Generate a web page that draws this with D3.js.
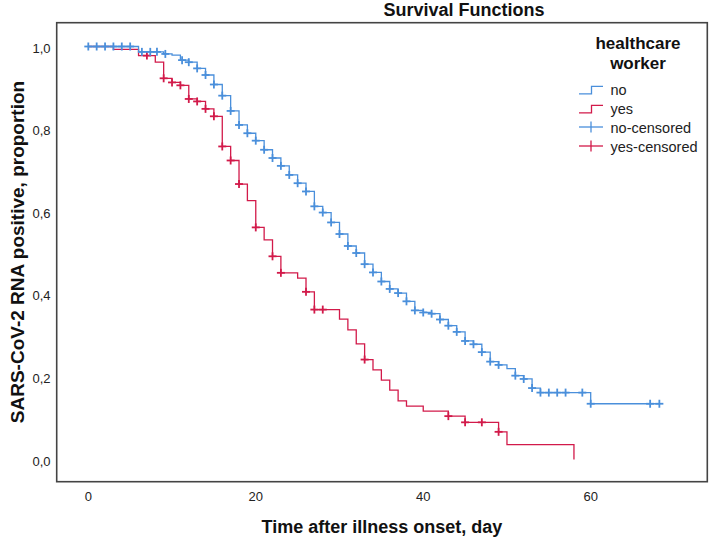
<!DOCTYPE html>
<html><head><meta charset="utf-8">
<script src="https://cdn.jsdelivr.net/npm/d3@7"></script>
<style>body{margin:0;background:#fff} svg{display:block;font-family:"Liberation Sans",Arial,sans-serif}</style>
</head><body><svg id="c" width="709" height="540"></svg>
<script>
// ---- data ----
const xTicks = [0, 20, 40, 60];
const yTicks = [0, 0.2, 0.4, 0.6, 0.8, 1.0];
const yTickLabels = ["0,0", "0,2", "0,4", "0,6", "0,8", "1,0"];
const legendLabels = ["no", "yes", "no-censored", "yes-censored"];

// healthcare worker = no
const noTimes = [0, 6, 9, 10, 11, 12, 13, 14, 15, 16, 17, 18, 19, 20, 21, 22, 23, 24, 25, 26, 27, 28, 29, 30,
  31, 32, 33, 34, 35, 36, 37, 38, 39, 40, 41, 42, 43, 44, 45, 46, 47, 48, 49, 50, 51, 52, 53, 54, 60];
const noSurv = [1, 0.987, 0.982, 0.979, 0.967, 0.962, 0.947, 0.931, 0.908, 0.881, 0.844, 0.810, 0.790, 0.772,
  0.750, 0.730, 0.711, 0.689, 0.669, 0.649, 0.613, 0.598, 0.574, 0.546, 0.517, 0.500, 0.473, 0.453, 0.431,
  0.413, 0.403, 0.383, 0.361, 0.356, 0.353, 0.339, 0.324, 0.309, 0.287, 0.279, 0.260, 0.237, 0.229, 0.220,
  0.203, 0.195, 0.173, 0.162, 0.135];
const noCensor = [0, 1, 2, 3, 4, 5, 6.4, 7.4, 8.2, 9.2, 11.2, 12, 13, 14, 15, 16, 17, 18, 19, 20, 21, 22, 23, 24,
  25, 26, 27, 28, 29, 30, 31, 32, 33, 34, 35, 36, 37, 38, 39, 40, 41, 42, 43, 44, 45, 46, 47, 48, 49, 51, 52,
  53, 54, 55, 56, 57, 59, 60, 67.1, 68.2];
const noEnd = 68.2;

// healthcare worker = yes
const yesTimes = [0, 3, 6, 8, 9, 10, 11, 12, 13, 14, 15, 16, 17, 18, 19, 20, 21, 22, 23, 25, 26, 27, 30, 31, 32,
  33, 34, 35, 36, 37, 38, 40, 43, 45, 49, 50, 58];
const yesSurv = [1, 0.993, 0.978, 0.962, 0.923, 0.913, 0.906, 0.873, 0.867, 0.849, 0.831, 0.758, 0.724, 0.667,
  0.627, 0.562, 0.532, 0.492, 0.452, 0.439, 0.406, 0.363, 0.340, 0.314, 0.280, 0.242, 0.217, 0.192, 0.168,
  0.142, 0.129, 0.117, 0.105, 0.090, 0.067, 0.036, 0];
const yesCensor = [7, 9, 10, 11, 12, 13, 14, 15, 16, 17, 18, 20, 22, 23, 26, 27, 28, 33, 43, 45, 47, 49];
const yesEnd = 58;

const colors = { no: "#4a8fdb", yes: "#d21a4a" };

// ---- layout ----
const svg = d3.select("#c");
const frame = { l: 56.7, t: 22.7, r: 707.3, b: 481.7 };
const x = d3.scaleLinear().domain([0, 60]).range([88.3, 590.7]);
const y = d3.scaleLinear().domain([0, 1]).range([459.5, 46.5]);

// frame
svg.append("rect").attr("x", frame.l).attr("y", frame.t)
  .attr("width", frame.r - frame.l).attr("height", frame.b - frame.t)
  .attr("fill", "none").attr("stroke", "#444").attr("stroke-width", 1.6);

// y tick labels
svg.append("g").selectAll("text").data(yTicks).join("text")
  .attr("x", 50.5).attr("y", d => y(d) + 1.5).attr("dy", "0.35em")
  .attr("text-anchor", "end").attr("font-size", 13).attr("fill", "#222")
  .text((d, i) => yTickLabels[i]);

// x tick labels
svg.append("g").selectAll("text").data(xTicks).join("text")
  .attr("x", d => x(d)).attr("y", 496).attr("dy", "0.35em")
  .attr("text-anchor", "middle").attr("font-size", 13).attr("fill", "#222")
  .text(d => d);

// titles
svg.append("text").attr("x", 464).attr("y", 16).attr("text-anchor", "middle")
  .attr("font-size", 18).attr("font-weight", "bold").attr("fill", "#111").text("Survival Functions");
svg.append("text").attr("x", 382).attr("y", 533).attr("text-anchor", "middle")
  .attr("font-size", 18).attr("font-weight", "bold").attr("fill", "#111").text("Time after illness onset, day");
svg.append("text").attr("transform", "translate(24,252) rotate(-90)").attr("text-anchor", "middle")
  .attr("font-size", 19).attr("font-weight", "bold").attr("fill", "#111")
  .text("SARS-CoV-2 RNA positive, proportion");

// survival step lookup
function survAt(times, surv, t) {
  let s = surv[0];
  for (let i = 0; i < times.length; i++) if (times[i] <= t) s = surv[i];
  return s;
}

const line = d3.line().x(d => x(d[0])).y(d => y(d[1])).curve(d3.curveStepAfter);

function drawGroup(key, times, surv, censor, end) {
  const pts = times.map((t, i) => [t, surv[i]]);
  pts.push([end, surv[surv.length - 1]]);
  svg.append("path").datum(pts).attr("d", line)
    .attr("fill", "none").attr("stroke", colors[key]).attr("stroke-width", 1.3);
  const g = svg.append("g").attr("stroke", colors[key]).attr("stroke-width", 1.8);
  censor.forEach(t => {
    const cx = x(t), cy = y(survAt(times, surv, t));
    g.append("line").attr("x1", cx - 4).attr("x2", cx + 4).attr("y1", cy).attr("y2", cy);
    g.append("line").attr("x1", cx).attr("x2", cx).attr("y1", cy - 4).attr("y2", cy + 4);
  });
}
drawGroup("yes", yesTimes, yesSurv, yesCensor, yesEnd);
drawGroup("no", noTimes, noSurv, noCensor, noEnd);

// legend
const lg = svg.append("g");
lg.append("text").attr("x", 638).attr("y", 49).attr("text-anchor", "middle")
  .attr("font-size", 17).attr("font-weight", "bold").attr("fill", "#111").text("healthcare");
lg.append("text").attr("x", 638).attr("y", 69).attr("text-anchor", "middle")
  .attr("font-size", 17).attr("font-weight", "bold").attr("fill", "#111").text("worker");
const base = [95, 114, 133, 152];
legendLabels.forEach((lab, i) => {
  const col = i % 2 === 0 ? colors.no : colors.yes;
  const b = base[i];
  if (i < 2) {
    lg.append("path").attr("d", `M579,${b - 1.2}H591.5V${b - 8.6}H603`)
      .attr("fill", "none").attr("stroke", col).attr("stroke-width", 1.3);
  } else {
    lg.append("line").attr("x1", 579).attr("x2", 603).attr("y1", b - 6).attr("y2", b - 6)
      .attr("stroke", col).attr("stroke-width", 1.3);
    lg.append("line").attr("x1", 591).attr("x2", 591).attr("y1", b - 11.5).attr("y2", b - 0.5)
      .attr("stroke", col).attr("stroke-width", 1.3);
  }
  lg.append("text").attr("x", 610.5).attr("y", b).attr("font-size", 14.5).attr("fill", "#222").text(lab);
});
</script></body></html>
